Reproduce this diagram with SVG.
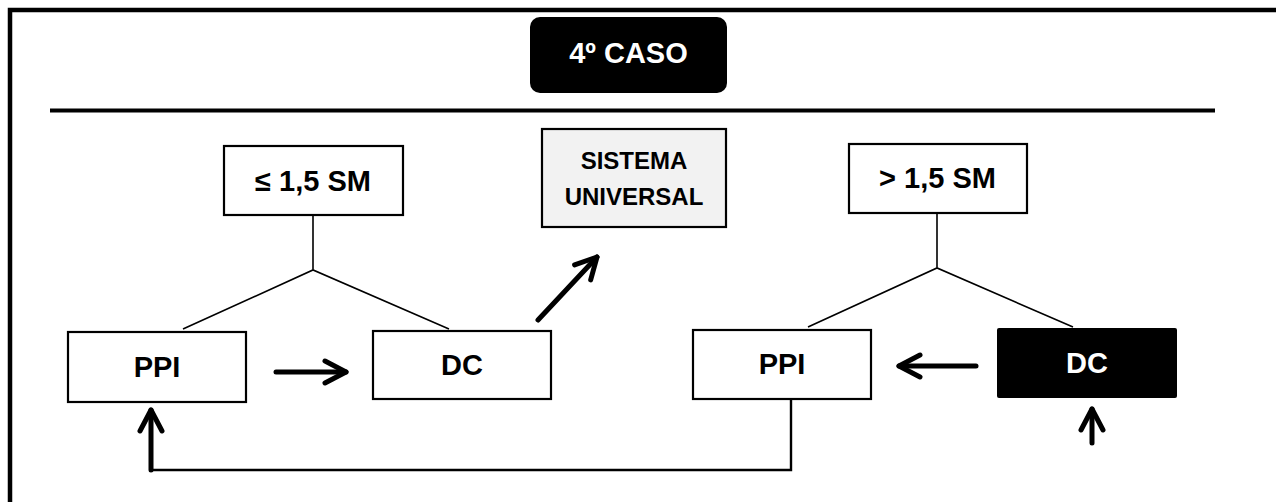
<svg xmlns="http://www.w3.org/2000/svg" width="1276" height="502" viewBox="0 0 1276 502">
<style>
.box{fill:#fff;stroke:#000;stroke-width:2.2}
.t{font-family:"Liberation Sans",Arial,sans-serif;font-weight:bold;text-anchor:middle;fill:#000}
.w{fill:#fff}
.tree{fill:none;stroke:#000;stroke-width:1.6}
.thin{fill:none;stroke:#000;stroke-width:2.4}
.arr{fill:none;stroke:#000;stroke-width:5;stroke-linecap:round;stroke-linejoin:round}
</style>
<defs>
<marker id="head" markerUnits="userSpaceOnUse" markerWidth="40" markerHeight="40" viewBox="-30 -20 40 40" refX="0" refY="0" orient="auto" overflow="visible">
<path d="M-21,-11 L0,0 L-21,11" fill="none" stroke="#000" stroke-width="5" stroke-linecap="round" stroke-linejoin="round"/>
</marker>
</defs>
<rect x="0" y="0" width="1276" height="502" fill="#fff"/>
<g id="frame">
<rect x="10" y="10" width="1300" height="520" fill="none" stroke="#000" stroke-width="4.5"/>
<line x1="50" y1="110.5" x2="1215" y2="110.5" stroke="#000" stroke-width="4"/>
</g>
<g id="title">
<rect x="530" y="17" width="197" height="76" rx="10" ry="10" fill="#000"/>
<text class="t w" x="628.5" y="63" font-size="29">4º CASO</text>
</g>
<g id="connectors">
<path class="tree" d="M313,215 V270 M183,329 L313,270 L449,329"/>
<path class="tree" d="M937,213 V268 M808,327 L937,268 L1073,327"/>
<path class="thin" d="M791,399 V470 H151"/>
<path class="arr" d="M151,470 V410" marker-end="url(#head)"/>
<path class="arr" d="M276,372 H346" marker-end="url(#head)"/>
<path class="arr" d="M976,366 H899" marker-end="url(#head)"/>
<path class="arr" d="M1092,443 V409" marker-end="url(#head)"/>
<path class="arr" d="M538,320 L597,257" marker-end="url(#head)"/>
</g>
<g id="le15">
<rect class="box" x="224" y="146" width="179" height="69"/>
<text class="t" x="313" y="191" font-size="29">≤ 1,5 SM</text>
</g>
<g id="sistema">
<rect x="542" y="129" width="184" height="98" fill="#f2f2f2" stroke="#000" stroke-width="2.2"/>
<text class="t" x="634" y="169" font-size="24">SISTEMA</text>
<text class="t" x="634" y="205" font-size="24">UNIVERSAL</text>
</g>
<g id="gt15">
<rect class="box" x="849" y="144" width="178" height="69"/>
<text class="t" x="937.5" y="188" font-size="29">&gt; 1,5 SM</text>
</g>
<g id="ppi1">
<rect class="box" x="68" y="332" width="178" height="70"/>
<text class="t" x="157" y="377" font-size="29">PPI</text>
</g>
<g id="dc1">
<rect class="box" x="373" y="331" width="178" height="68"/>
<text class="t" x="462" y="375" font-size="29">DC</text>
</g>
<g id="ppi2">
<rect class="box" x="693" y="330" width="178" height="69"/>
<text class="t" x="782" y="374" font-size="29">PPI</text>
</g>
<g id="dc2">
<rect x="997" y="328" width="180" height="70" rx="2" ry="2" fill="#000"/>
<text class="t w" x="1087" y="373" font-size="29">DC</text>
</g>
</svg>
